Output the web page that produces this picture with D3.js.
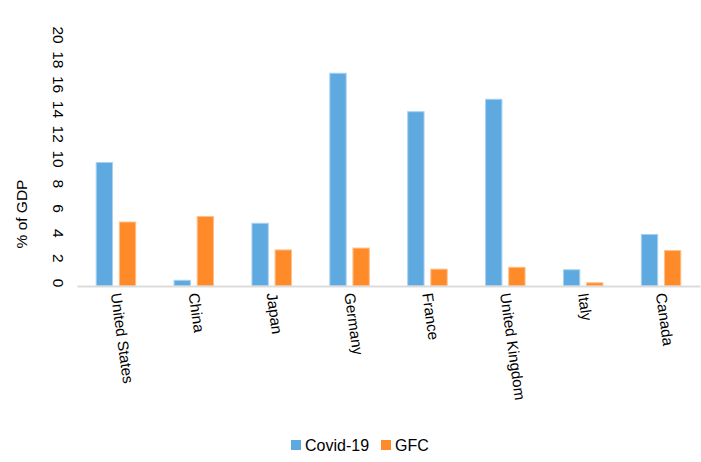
<!DOCTYPE html>
<html>
<head>
<meta charset="utf-8">
<script src="https://cdn.jsdelivr.net/npm/d3@7"></script>
<style>
  body { margin: 0; background: #fff; }
  svg text { font-family: "Liberation Sans", Arial, Helvetica, sans-serif; fill: #000; }
</style>
</head>
<body>
<div class="chart"></div>
<script>
// fiscal response, % of GDP
var countries = ["United States", "China", "Japan", "Germany", "France", "United Kingdom", "Italy", "Canada"];
var series = ["Covid-19", "GFC"];
var covid = [10.0, 0.5, 5.1, 17.2, 14.1, 15.1, 1.35, 4.2];
var gfc = [5.2, 5.65, 2.95, 3.1, 1.4, 1.55, 0.3, 2.9];
var yTicks = [0, 2, 4, 6, 8, 10, 12, 14, 16, 18, 20];
var colors = ["#5eaae0", "#fe8a2a"];
var strokes = ["#a9d2f0", "#ffc089"];

var width = 701;
var height = 462;

var svg = d3.select(".chart")
    .append("svg")
    .attr("width", width)
    .attr("height", height);

var x = d3.scaleBand()
    .domain(countries)
    .range([77, 700])
    .padding(0);

var x1 = d3.scaleBand()
    .domain(series)
    .range([x.bandwidth() * 0.24, x.bandwidth() * 0.76])
    .paddingInner(0.25);

var y = d3.scaleLinear()
    .domain([0, 20])
    .range([286, 38]);

var rows = countries.map(function(c, i) {
    return { country: c, values: [covid[i], gfc[i]] };
});

// bars
var groups = svg.append("g")
    .selectAll("g")
    .data(rows)
    .enter()
    .append("g")
    .attr("transform", function(d) { return "translate(" + x(d.country) + ",0)"; });

groups.selectAll("rect")
    .data(function(d) { return d.values.map(function(v, j) { return { s: series[j], v: v, j: j }; }); })
    .enter()
    .append("rect")
    .attr("x", function(d) { return x1(d.s) + 0.5; })
    .attr("y", function(d) { return y(d.v) + 0.5; })
    .attr("width", x1.bandwidth() - 1)
    .attr("height", function(d) { return Math.max(0, y(0) - y(d.v) - 0.5); })
    .attr("fill", function(d) { return colors[d.j]; })
    .attr("stroke", function(d) { return strokes[d.j]; })
    .attr("stroke-width", 1);

// x axis
var xAxis = svg.append("g")
    .attr("transform", "translate(0," + y(0) + ")")
    .call(d3.axisBottom(x).tickSize(0).tickSizeOuter(0));

xAxis.select(".domain")
    .attr("stroke", "#dcdcdc")
    .attr("stroke-width", 2);

xAxis.selectAll("text")
    .attr("transform", "translate(0,7) rotate(82)")
    .attr("x", 0)
    .attr("y", 0)
    .attr("dy", "0.35em")
    .style("text-anchor", "start")
    .style("font-size", "15.2px")
    .attr("fill", "#000");

// y axis labels (no line), rotated to read downward
var yAxis = svg.append("g")
    .attr("transform", "translate(58,-3)")
    .call(d3.axisLeft(y).tickValues(yTicks).tickSize(0).tickPadding(0));

yAxis.select(".domain").remove();

yAxis.selectAll(".tick")
    .attr("transform", "translate(0,0)");

yAxis.selectAll(".tick text")
    .attr("x", 0)
    .attr("y", function(d) { return y(d); })
    .attr("dy", "0.35em")
    .attr("transform", function(d) { return "rotate(90,0," + y(d) + ")"; })
    .style("text-anchor", "middle")
    .style("font-size", "15.5px")
    .attr("fill", "#000");

svg.append("text")
    .attr("transform", "translate(22,214) rotate(-90)")
    .attr("dy", "0.35em")
    .style("text-anchor", "middle")
    .style("font-size", "15.5px")
    .text("% of GDP");

// legend
var legend = svg.append("g");
var legX = [291, 381];

series.forEach(function(s, i) {
    legend.append("rect")
        .attr("x", legX[i])
        .attr("y", 440)
        .attr("width", 10)
        .attr("height", 10)
        .attr("fill", colors[i]);
    legend.append("text")
        .attr("x", legX[i] + 14)
        .attr("y", 445)
        .attr("dy", "0.35em")
        .style("font-size", "16px")
        .text(s);
});
</script>
</body>
</html>
